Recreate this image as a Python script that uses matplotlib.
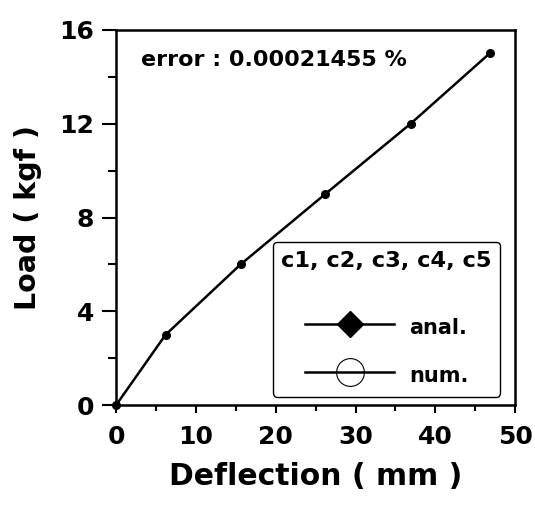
import matplotlib
matplotlib.use("Agg")
import matplotlib.pyplot as plt
from matplotlib.lines import Line2D
from matplotlib.ticker import MultipleLocator

plt.rcParams['font.family'] = ['DejaVu Sans']
plt.rcParams['font.weight'] = 'bold'

deflection = [0, 6.2, 15.6, 26.2, 36.9, 46.8]
load = [0, 3, 6, 9, 12, 15]
error_text = "error : 0.00021455 %"
legend_title = "c1, c2, c3, c4, c5"
legend_labels = ["anal.", "num."]

fig = plt.figure(figsize=(5.35, 5.07), dpi=100)
ax = fig.add_axes([0.217, 0.201, 0.746, 0.740])

ax.plot(deflection, load, color='black', lw=1.8, marker='o', ms=5.5,
        mfc='black', mec='black', clip_on=False, zorder=5)

ax.set_xlim(0, 50)
ax.set_ylim(0, 16)
ax.xaxis.set_major_locator(MultipleLocator(10))
ax.xaxis.set_minor_locator(MultipleLocator(5))
ax.yaxis.set_major_locator(MultipleLocator(4))
ax.yaxis.set_minor_locator(MultipleLocator(2))
ax.tick_params(which='both', direction='out', width=1.5, labelsize=18)
ax.tick_params(axis='y', which='major', length=10, pad=6)
ax.tick_params(axis='y', which='minor', length=6)
ax.tick_params(axis='x', which='major', length=6, pad=8)
ax.tick_params(axis='x', which='minor', length=4)
for s in ax.spines.values():
    s.set_linewidth(1.8)
for lbl in ax.get_xticklabels() + ax.get_yticklabels():
    lbl.set_fontweight('bold')

ax.set_xlabel('Deflection ( mm )', fontsize=21.5, fontweight='bold', labelpad=10)
ax.set_ylabel('Load ( kgf )', fontsize=20.5, fontweight='bold', labelpad=12)

ax.text(0.063, 0.92, error_text, transform=ax.transAxes, fontsize=16,
        fontweight='bold', va='center', ha='left')

handles = [
    Line2D([0], [0], color='black', lw=1.8, marker='D', ms=13, mfc='black', mec='black'),
    Line2D([0], [0], color='black', lw=1.8, marker='o', ms=20, mfc='none', mec='black', mew=0.8),
]
leg = ax.legend(handles, legend_labels, title=legend_title + "\n",
                loc='upper left', bbox_to_anchor=(0.393, 0.434), borderaxespad=0,
                fontsize=15, title_fontproperties={'weight': 'bold', 'size': 16.2},
                handlelength=4.3, handleheight=1.6, handletextpad=0.7,
                labelspacing=1.0, borderpad=0.4, frameon=True, fancybox=True,
                edgecolor='black', framealpha=1)
leg.get_title().set_linespacing(1.15)
leg.get_frame().set_linewidth(1.0)
for t in leg.get_texts():
    t.set_fontweight('bold')

fig.savefig('out.png', dpi=100)
